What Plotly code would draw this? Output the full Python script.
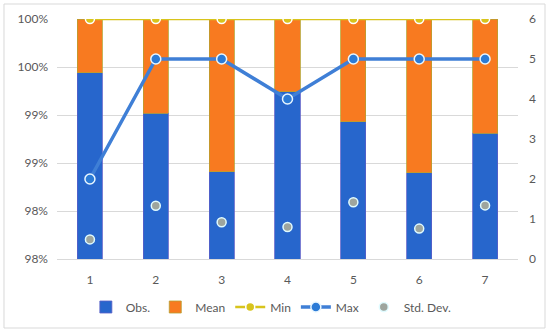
import plotly.graph_objects as go

categories = [1, 2, 3, 4, 5, 6, 7]
obs = [0.9944, 0.9902, 0.9841, 0.9924, 0.9893, 0.9840, 0.9881]
mean = [round(1 - v, 4) for v in obs]
min_vals = [6, 6, 6, 6, 6, 6, 6]
max_vals = [2, 5, 5, 4, 5, 5, 5]
std_dev = [0.49, 1.33, 0.92, 0.80, 1.42, 0.76, 1.34]
left_tick_vals = [0.975, 0.98, 0.985, 0.99, 0.995, 1.0]
left_tick_text = ["98%", "98%", "99%", "99%", "100%", "100%"]
right_tick_vals = [0, 1, 2, 3, 4, 5, 6]

font_family = "Lato, 'Open Sans', sans-serif"
tick_color = "#595959"

fig = go.Figure()
fig.add_trace(go.Bar(x=categories, y=obs, name="Obs.", width=0.38,
                     marker=dict(color="#2766cc", line=dict(color="#5a5fc8", width=0.8))))
fig.add_trace(go.Bar(x=categories, y=mean, name="Mean", width=0.38,
                     marker=dict(color="#f87a20", line=dict(color="#b8a030", width=0.8))))
fig.add_trace(go.Scatter(x=categories, y=min_vals, name="Min", yaxis="y2", mode="lines+markers",
                         line=dict(color="#d8c41c", width=2.5),
                         marker=dict(size=9, color="#d8c41c", line=dict(color="white", width=1.5))))
fig.add_trace(go.Scatter(x=categories, y=max_vals, name="Max", yaxis="y2", mode="lines+markers",
                         line=dict(color="#3f7fd6", width=3.5),
                         marker=dict(size=10, color="#2c7bd6", line=dict(color="#e8f6ff", width=1.5))))
fig.add_trace(go.Scatter(x=categories, y=std_dev, name="Std. Dev.", yaxis="y2", mode="markers",
                         marker=dict(size=9, color="#9ea59e", line=dict(color="#e0fbff", width=1.5))))

fig.update_layout(
    width=550, height=333,
    barmode="stack",
    plot_bgcolor="white", paper_bgcolor="white",
    margin=dict(l=57, r=32, t=19, b=74),
    font=dict(family=font_family, size=12, color=tick_color),
    xaxis=dict(range=[0.5, 7.5], tickvals=categories, showgrid=False, zeroline=False,
               showline=True, linecolor="#d9d9d9", linewidth=1, ticks="",
               ticklabelstandoff=10, tickfont=dict(size=12, color=tick_color)),
    yaxis=dict(range=[0.975, 1.0], tickvals=left_tick_vals, ticktext=left_tick_text,
               showgrid=True, gridcolor="#d9d9d9", gridwidth=1, zeroline=False,
               ticklabelstandoff=8, tickfont=dict(size=12, color=tick_color)),
    yaxis2=dict(range=[0, 6], tickvals=right_tick_vals, overlaying="y", side="right",
                showgrid=False, zeroline=False, ticklabelstandoff=10,
                tickfont=dict(size=12, color=tick_color)),
    legend=dict(orientation="h", x=0.465, xanchor="center", y=-0.2, yanchor="middle",
                font=dict(size=12, color=tick_color), traceorder="normal",
                itemwidth=30, tracegroupgap=0),
    showlegend=True,
    shapes=[dict(type="rect", xref="paper", yref="paper", x0=-0.115, x1=1.0586,
                 y0=-0.2875, y1=1.0625, line=dict(color="#d9d9d9", width=1), layer="below")],
)

fig.write_html("out.html", config={"displayModeBar": False},
               post_script="document.body.style.margin='0';document.body.style.overflow='hidden';")
